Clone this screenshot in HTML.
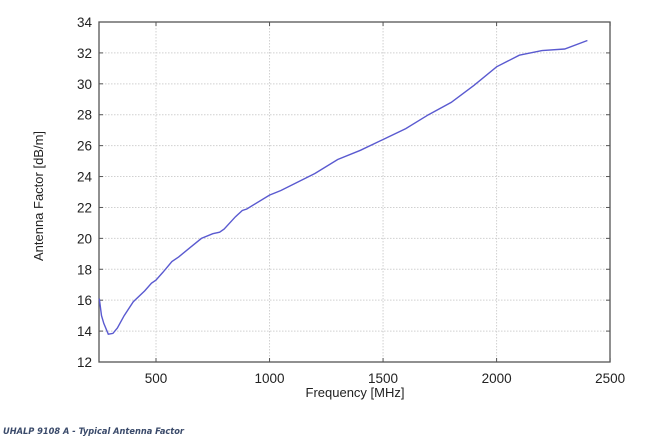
<!DOCTYPE html>
<html><head><meta charset="utf-8"><style>
html,body{margin:0;padding:0;background:#fff;}
svg{display:block;font-family:"Liberation Sans",Arial,sans-serif;}
</style></head><body>
<svg width="660" height="440" xmlns="http://www.w3.org/2000/svg" id="s">
<rect width="660" height="440" fill="#fff"/>
<g id="grid" stroke="#d0d0d0" stroke-width="1" stroke-dasharray="1.5,1.5"></g>
<rect x="99" y="22" width="511" height="340" fill="none" stroke="#555" stroke-width="1.3"/>
<g id="ticks" stroke="#555" stroke-width="1"></g>
<g id="lab" font-size="13.5" fill="#222"></g>
<polyline id="curve" fill="none" stroke="#5a5ad0" stroke-width="1.4"/>
<text x="355" y="397" font-size="13" text-anchor="middle" fill="#222">Frequency [MHz]</text>
<text transform="translate(43,196) rotate(-90)" font-size="13" text-anchor="middle" fill="#222">Antenna Factor [dB/m]</text>
<text x="3" y="434" font-size="8.5" font-weight="bold" font-style="italic" fill="#3a4a6a" textLength="181" lengthAdjust="spacingAndGlyphs" font-family="DejaVu Sans, sans-serif">UHALP 9108 A - Typical Antenna Factor</text>
</svg>
<script>
const X=f=>99.25+(f-250)*0.22705, Y=v=>362-(v-12)*15.4545;
const ns="http://www.w3.org/2000/svg";
const g=document.getElementById('grid'),t=document.getElementById('ticks'),l=document.getElementById('lab');
function el(p,tag,a,txt){const e=document.createElementNS(ns,tag);for(const k in a)e.setAttribute(k,a[k]);if(txt)e.textContent=txt;p.appendChild(e);}
for(let f=500;f<=2000;f+=500){el(g,'line',{x1:X(f),x2:X(f),y1:22,y2:362});}
for(let f=500;f<=2500;f+=500){el(t,'line',{x1:X(f),x2:X(f),y1:362,y2:358});el(t,'line',{x1:X(f),x2:X(f),y1:22,y2:26});el(l,'text',{x:X(f),y:383,'text-anchor':'middle'},String(f));}
for(let v=12;v<=34;v+=2){if(v>12&&v<34)el(g,'line',{x1:99,x2:610,y1:Y(v),y2:Y(v)});el(t,'line',{x1:99,x2:103,y1:Y(v),y2:Y(v)});el(t,'line',{x1:610,x2:606,y1:Y(v),y2:Y(v)});el(l,'text',{x:92,y:Y(v)+5,'text-anchor':'end'},String(v));}
const d=[[250,16.1],[260,15],[270,14.5],[290,13.8],[310,13.85],[330,14.2],[360,15],[400,15.9],[450,16.6],[480,17.1],[500,17.3],[530,17.8],[570,18.5],[600,18.8],[650,19.4],[700,20],[750,20.3],[780,20.4],[800,20.6],[850,21.4],[880,21.8],[900,21.9],[1000,22.8],[1050,23.1],[1200,24.2],[1300,25.1],[1400,25.7],[1500,26.4],[1600,27.1],[1700,28],[1800,28.8],[1900,29.9],[2000,31.1],[2100,31.85],[2200,32.15],[2300,32.25],[2400,32.8]];
document.getElementById('curve').setAttribute('points',d.map(p=>X(p[0]).toFixed(1)+','+Y(p[1]).toFixed(1)).join(' '));
</script>
</body></html>
